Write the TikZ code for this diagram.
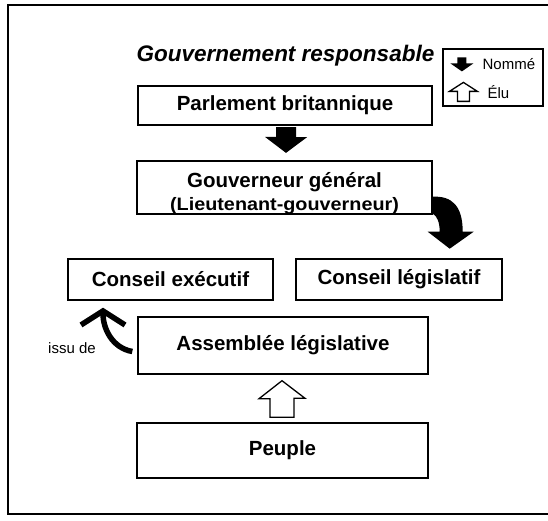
\documentclass[tikz,border=0pt]{standalone}
\usepackage{fontspec}
\setmainfont{Liberation Sans}
\usetikzlibrary{calc,arrows.meta}
\begin{document}
\begin{tikzpicture}[x=1pt,y=-1pt,
  box/.style={draw=black, line width=1.4pt, fill=white, inner sep=0pt, font=\fontsize{20.5}{23}\selectfont\bfseries},
  hollow/.style={draw=black, line width=1.3pt, fill=white, line join=miter},
  small/.style={font=\fontsize{15}{17}\selectfont, inner sep=0pt}
]
\useasboundingbox (0,0) rectangle (548,521);
\fill[white] (0,0) rectangle (548,521);
\draw[line width=1.6pt] (548,5) -- (8,5) -- (8,514) -- (548,514);

\node[font=\fontsize{22.5}{26}\selectfont\bfseries\itshape, anchor=base, inner sep=0pt] (title) at (285.5,62) {Gouvernement responsable};

% legend
\node[draw=black, line width=1.2pt, minimum width=100pt, minimum height=57pt, inner sep=0pt] (legend) at (493,77.5) {};
\fill[black] ($(legend.north west)+(15,9)$) -- ++(9,0) -- ++(0,6) -- ++(7,0) -- ++(-11.5,8) -- ++(-11.5,-8) -- ++(7,0) -- cycle;
\node[small, anchor=west] (nomme) at ($(legend.north west)+(40,16)$) {Nommé};
\path[hollow] ($(legend.north west)+(15,53)$) -- ++(12,0) -- ++(0,-10) -- ++(8,0) -- ++(-14,-9) -- ++(-14,9) -- ++(8,0) -- cycle;
\node[small, anchor=west] (elu) at ($(legend.north west)+(45,44)$) {Élu};

% boxes
\node[box, minimum width=294pt, minimum height=39pt] (parl) at (285,105.5) {Parlement britannique};
\node[box, minimum width=295pt, minimum height=53pt] (gouv) at (284.5,187.5) {};
\node[font=\fontsize{20.5}{23}\selectfont\bfseries, align=center, inner sep=0pt] (gouvtxt) at ($(gouv.center)+(0,6)$) {Gouverneur général\\{\fontsize{18}{23}\selectfont\addfontfeature{FakeStretch=1.1}(Lieutenant-gouverneur)}};
\node[box, minimum width=205pt, minimum height=41pt] (cexec) at (170.5,279.5) {Conseil exécutif};
\node[box, minimum width=206pt, minimum height=41pt] (cleg) at (399,279.5) {Conseil législatif};
\node[box, minimum width=290pt, minimum height=57pt] (assem) at (283,345.5) {Assemblée législative};
\node[box, minimum width=291pt, minimum height=55pt] (peuple) at (282.5,450.5) {Peuple};

% Parlement -> Gouverneur
\fill[black] ($(parl.south)+(-9,1.5)$) -- ++(20,0) -- ++(0,10) -- ++(11,0) -- ($(gouv.north)+(1.5,-7.4)$) -- ++(-21,-16) -- ++(11,0) -- cycle;

% Gouverneur -> Conseil legislatif (curved)
\begin{scope}[shift={(gouv.south east)}]
\fill[black] (0,-18) .. controls (19,-19) and (30,-9) .. (30,17) -- (41,17) -- (17,34) -- (-5,17) -- (7,17) .. controls (7,7) and (4,1) .. (0,-1) -- cycle;
\end{scope}

% Peuple -> Assemblee (elu)
\path[hollow] ($(peuple.north)+(-12.5,-5)$) -- ++(24,0) -- ++(0,-19) -- ++(11,0) -- ($(assem.south)+(-1,6)$) -- ++(-23,18) -- ++(11,0) -- cycle;

% Assemblee -> Conseil executif (issu de)
\draw[line width=5.5pt, -{Straight Barb[length=14pt, width=44pt, line width=5.5pt]}] ($(assem.west)+(-5,6)$) to[out=170,in=-90] ($(cexec.south)+(-67.5,7)$);
\node[small] (issu) at (72,348) {issu de};
\end{tikzpicture}
\end{document}
